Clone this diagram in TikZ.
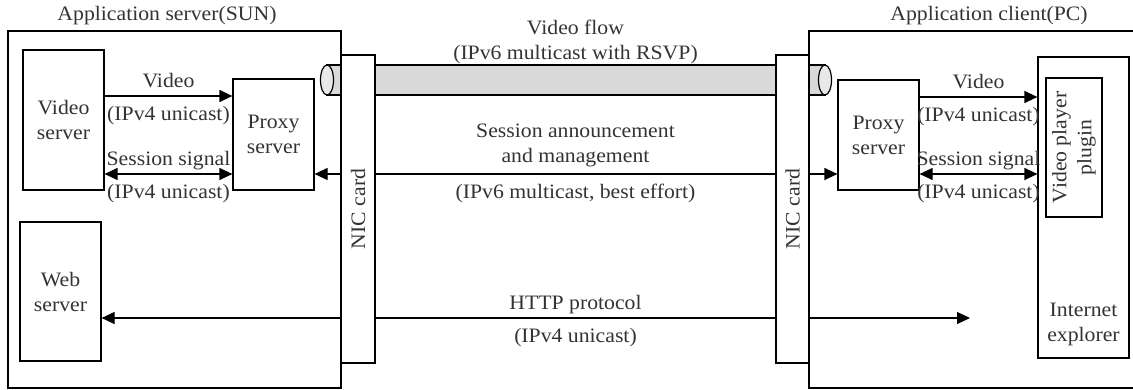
\documentclass[tikz,border=0pt]{standalone}
\usepackage{fontspec}
\setmainfont[FakeStretch=1.06]{Liberation Serif}
\usetikzlibrary{arrows.meta}
\begin{document}
\begin{tikzpicture}[x=1pt,y=-1pt,
  every node/.style={font=\fontsize{20.5}{25}\selectfont, text=black!80},
  box/.style={draw, line width=1.2pt, fill=white, inner sep=0pt, align=center},
  frame/.style={draw, line width=1.2pt},
  link/.style={line width=1.2pt},
  tip/.style={-{Triangle[length=13pt,width=12pt]}},
  biway/.style={{Triangle[length=13pt,width=12pt]}-{Triangle[length=13pt,width=12pt]}},
  pipe/.style={draw, line width=1.2pt, fill=black!15},
  upper/.style={anchor=south, inner sep=0pt, text depth=0pt, yshift=8pt, align=center},
  lower/.style={anchor=north, inner sep=0pt, yshift=-10pt, align=center},
]
\useasboundingbox (0,0) rectangle (1133,389);

% host frames
\draw[frame] (8,31) rectangle (341,388);
\draw[frame] (809,31) rectangle (1140,388);
\node[anchor=base] (srvtitle) at (167,20) {Application server(SUN)};
\node[anchor=base] (clititle) at (989,20) {Application client(PC)};

% reserved video pipe between the two hosts
\draw[pipe] (327,65) rectangle (825,95);
\draw[pipe, fill=black!9] (327,80) ellipse [x radius=6.5, y radius=15];
\draw[pipe, fill=black!9] (825,80) ellipse [x radius=6.5, y radius=15];
\node[upper, yshift=-3pt] (flow) at (575.5,65) {Video flow\\(IPv6 multicast with RSVP)};

% server side
\node[box, minimum width=81, minimum height=140] (vs) at (63.5,120) {Video\\server};
\node[box, minimum width=81, minimum height=111] (lp) at (273.5,134.5) {Proxy\\server};
\node[box, minimum width=81, minimum height=139] (ws) at (60.5,291.5) {Web\\server};

% client side
\node[box, minimum width=81, minimum height=110] (rp) at (878.5,135) {Proxy\\server};
\node[box, minimum width=91, minimum height=301] (ie) at (1083.5,207.5) {};
\node[align=center] (ietext) at (1083.5,324) {Internet\\explorer};
\node[box, rotate=90, minimum width=139, minimum height=56] (plug) at (1074,147.5) {Video player\\plugin};

% links crossing the network
\draw[link,biway] (lp.east |- 0,174) -- (rp.west |- 0,174);
\node[upper, yshift=3pt] (sa) at (575.5,174) {Session announcement\\and management};
\node[lower] (sab) at (575.5,174) {(IPv6 multicast, best effort)};

\coordinate (httpend) at (970,318);
\draw[link,biway] (ws.east |- 0,318) -- (httpend);
\node[upper] (http) at (575.5,318) {HTTP protocol};
\node[lower] (httpb) at (575.5,318) {(IPv4 unicast)};

% network interface cards
\node[box, rotate=90, minimum width=308, minimum height=34] (lnic) at (358,209) {NIC card};
\node[box, rotate=90, minimum width=308, minimum height=33] (rnic) at (792.5,209) {NIC card};

% local links on the server
\draw[link,tip] (vs.east |- 0,96) -- (lp.west |- 0,96)
  node[midway, upper] {Video} node[midway, lower] {(IPv4 unicast)};
\draw[link,biway] (vs.east |- 0,174) -- (lp.west |- 0,174)
  node[midway, upper] {Session signal} node[midway, lower] {(IPv4 unicast)};

% local links on the client
\draw[link,tip] (rp.east |- 0,97) -- (ie.west |- 0,97)
  node[midway, upper] {Video} node[midway, lower] {(IPv4 unicast)};
\draw[link,biway] (rp.east |- 0,174) -- (ie.west |- 0,174)
  node[midway, upper] {Session signal} node[midway, lower] {(IPv4 unicast)};
\end{tikzpicture}
\end{document}
